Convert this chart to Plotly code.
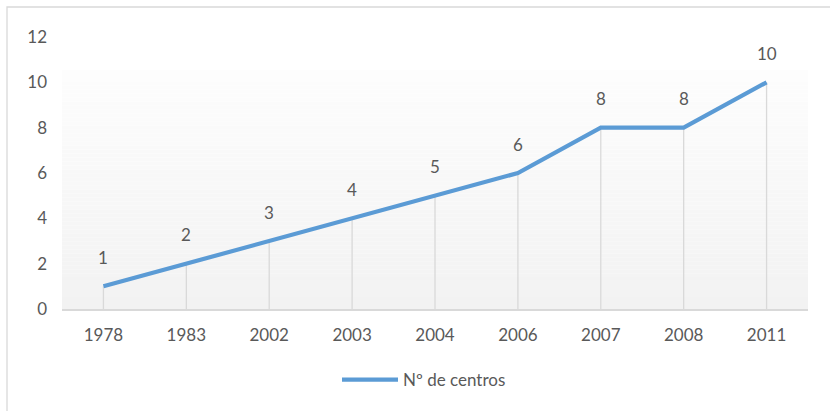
import numpy as np
import plotly.graph_objects as go

# Number of centres per year
years = ["1978", "1983", "2002", "2003", "2004", "2006", "2007", "2008", "2011"]
centros = [1, 2, 3, 4, 5, 6, 8, 8, 10]
series_name = "Nº de centros"
y_ticks = [0, 2, 4, 6, 8, 10, 12]

FONT = "Lato"
FSIZE = 17
TEXT_COLOR = "#595959"
LINE_COLOR = "#5b9bd5"
GRID_COLOR = "#d9d9d9"

fig = go.Figure()

# vertical drop lines from each point down to the category axis
drop_x, drop_y = [], []
for yr, v in zip(years, centros):
    drop_x += [yr, yr, None]
    drop_y += [0, v, None]
fig.add_trace(go.Scatter(
    x=drop_x, y=drop_y, mode="lines",
    line=dict(color=GRID_COLOR, width=1.3),
    hoverinfo="skip", showlegend=False,
))

# main series
fig.add_trace(go.Scatter(
    x=years, y=centros, mode="lines", name=series_name,
    line=dict(color=LINE_COLOR, width=4.2),
))

# value labels above each point (category index used as x position)
annotations = [
    dict(x=i, y=v, xref="x", yref="y", text=str(v), showarrow=False, yshift=29,
         xanchor="center", yanchor="middle",
         font=dict(family=FONT, size=FSIZE, color=TEXT_COLOR))
    for i, v in enumerate(centros)
]

# soft vertical gradient behind the plot (white at top to light grey at bottom)
shapes = []
n_stripes = 60
edges = np.linspace(0, 10.55, n_stripes + 1)
for i in range(n_stripes):
    t = (i + 0.5) / n_stripes  # 0 at bottom, 1 at top
    c = int(round(0xf2 + (0xfd - 0xf2) * t))
    shapes.append(dict(
        type="rect", xref="paper", yref="y",
        x0=0, x1=1, y0=edges[i], y1=edges[i + 1],
        fillcolor=f"rgb({c},{c},{c})", line=dict(width=0), layer="below",
    ))

# chart frame
L, R, T, B = 62, 22, 37, 102
W, H = 830, 411
pw, ph = W - L - R, H - T - B
shapes.append(dict(
    type="rect", xref="paper", yref="paper",
    x0=(7 - L) / pw, x1=(W + 5 - L) / pw,
    y0=(H - B - (H + 5)) / ph, y1=(H - B - 7) / ph,
    line=dict(color=GRID_COLOR, width=1.3), fillcolor="rgba(0,0,0,0)",
    layer="below",
))

fig.update_layout(
    width=W, height=H,
    margin=dict(l=L, r=R, t=T, b=B),
    paper_bgcolor="white", plot_bgcolor="rgba(0,0,0,0)",
    font=dict(family=FONT, size=FSIZE, color=TEXT_COLOR),
    shapes=shapes, annotations=annotations,
    showlegend=True,
    legend=dict(
        orientation="h", x=(424 - L) / pw, xanchor="center",
        y=(H - B - 380) / ph, yanchor="middle",
        font=dict(family=FONT, size=FSIZE, color=TEXT_COLOR),
        itemwidth=56, bgcolor="rgba(0,0,0,0)",
    ),
    xaxis=dict(
        type="category", categoryorder="array", categoryarray=years,
        range=[-0.5, len(years) - 0.5],
        showgrid=False, zeroline=False,
        showline=True, linecolor=GRID_COLOR, linewidth=2,
        ticks="", ticklabelstandoff=10,
        tickfont=dict(family=FONT, size=FSIZE, color=TEXT_COLOR),
    ),
    yaxis=dict(
        range=[0, 12], tickvals=y_ticks,
        showgrid=False, zeroline=False, showline=False,
        ticks="", ticklabelstandoff=14,
        tickfont=dict(family=FONT, size=FSIZE, color=TEXT_COLOR),
    ),
)

fig.write_html("out.html")
